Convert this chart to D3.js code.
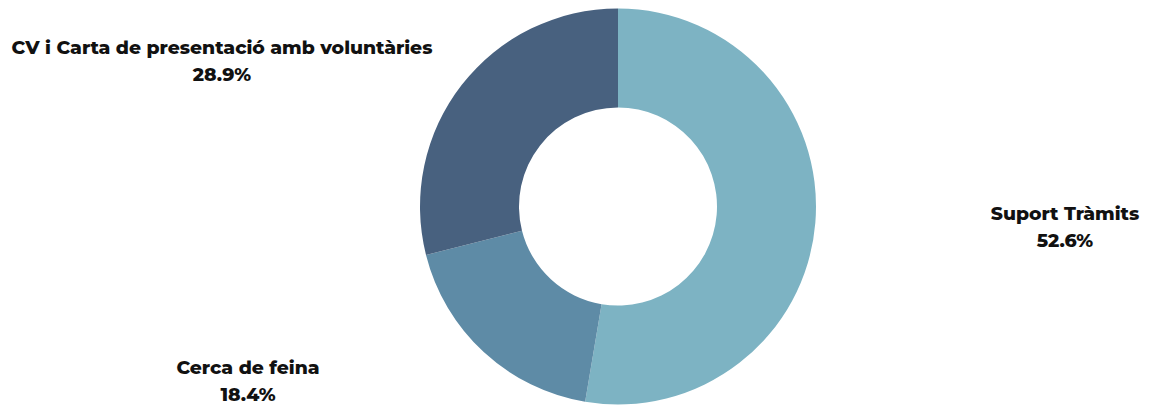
<!DOCTYPE html>
<html><head><meta charset="utf-8">
<script src="https://cdn.jsdelivr.net/npm/d3@7/dist/d3.min.js"></script>
<style>body{margin:0;background:#fff}svg{display:block}</style>
</head><body>
<svg id="c" width="1157" height="407"></svg>
<script>
const categories = ["Suport Tràmits", "Cerca de feina", "CV i Carta de presentació amb voluntàries"];
const values = [52.6, 18.4, 28.9];
const colors = ["#7DB3C3", "#5E8BA6", "#48617F"];
// label anchor offsets from center (layout)
const labelOffsets = [[447, 13], [-370, 167], [-396, -153]];

const W = 1157, H = 407, cx = 618, cy = 206.5, R = 198, r = 99;
const svg = d3.select("#c");
const g = svg.append("g").attr("transform", `translate(${cx},${cy})`);
const pie = d3.pie().sort(null).value(d => d)(values);
const arc = d3.arc().innerRadius(r).outerRadius(R);
g.selectAll("path").data(pie).join("path")
  .attr("d", arc).attr("fill", (d, i) => colors[i]);
const lab = g.selectAll("text").data(pie).join("text")
  .attr("text-anchor", "middle")
  .attr("font-family", "Montserrat, 'DejaVu Sans', sans-serif")
  .attr("font-weight", 800).attr("font-size", 18.8).attr("fill", "#111")
  .attr("transform", (d, i) => `translate(${labelOffsets[i][0]},${labelOffsets[i][1]})`);
lab.append("tspan").attr("x", 0).attr("dy", 0).text((d, i) => categories[i]);
lab.append("tspan").attr("x", 0).attr("dy", 27).text(d => d.data.toFixed(1) + "%");
</script>
</body></html>
